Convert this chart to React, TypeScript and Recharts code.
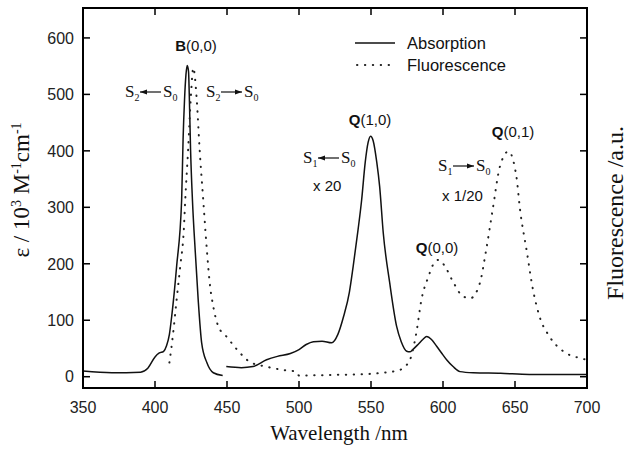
import React from "react";
import { LineChart, Line, XAxis, YAxis } from "recharts";

// wavelength axis and epsilon axis ticks
const wavelengthTicks = [350, 400, 450, 500, 550, 600, 650, 700];
const epsilonTicks = [0, 100, 200, 300, 400, 500, 600];

// absorption, Soret region (B band)
const soretNm = [350, 370, 390, 395, 400, 403, 406, 408, 410, 411.6, 415, 418.5, 419.5, 420.5, 421.5, 422.4, 423.3, 423.8, 424.7, 426, 428, 430, 432.4, 436, 440.5, 447];
const soretAbs = [10, 7, 8, 15, 35, 42, 45, 55, 75, 107, 195, 313, 420, 490, 535, 551, 540, 500, 402, 313, 220, 136, 60, 25, 7, 2];

// absorption, Q region (x 20)
const qNm = [449.5, 460, 468, 477.5, 485, 494, 500, 505, 510, 516, 522.7, 527, 531, 535, 537.6, 541, 543.5, 546, 548, 549.7, 551.5, 554, 556, 558.5, 563, 567.8, 571, 574.8, 577, 579, 583, 586, 588.7, 592, 595.6, 599, 602.5, 607, 611.8, 621, 640, 660, 700];
const qAbs = [18, 16, 18, 30, 36, 41, 48, 57, 62, 63, 60, 75, 107, 150, 195, 260, 313, 380, 415, 426, 418, 380, 337, 255, 166, 89, 62, 45, 44, 48, 58, 66, 71, 66, 54, 42, 30, 18, 9, 7, 6, 4, 4];

// fluorescence (dotted)
const fluoNm = [410, 412.5, 415, 417.5, 420, 421, 423, 425, 426.6, 429, 431, 433.5, 436, 438, 440.5, 444, 450, 457, 466, 477, 489, 498, 500, 520, 540, 558, 570, 577, 581.5, 585, 590, 593, 597, 601, 607, 614, 619, 625.5, 630, 634.5, 639.5, 645.5, 651, 653.5, 658, 662.5, 667, 674, 683.5, 695, 700];
const fluoVal = [25, 75, 136, 195, 260, 313, 402, 500, 547, 490, 402, 313, 225, 166, 124, 89, 70, 48, 26, 18, 12, 9, 2, 3, 4, 7, 12, 30, 78, 136, 178, 198, 207, 197, 168, 142, 139, 165, 225, 296, 372, 399, 354, 296, 225, 154, 107, 71, 45, 33, 30];

const toPoints = (nm: number[], v: number[]) => nm.map((x, i) => ({ nm: x, v: v[i] }));

const soretData = toPoints(soretNm, soretAbs);
const qData = toPoints(qNm, qAbs);
const fluoData = toPoints(fluoNm, fluoVal);

const SANS = "'Liberation Sans', Arial, sans-serif";
const SERIF = "'Liberation Serif', 'Times New Roman', serif";

const CHART_W = 629;
const CHART_H = 451;
const MARGIN = { top: 8, right: 42, bottom: 33, left: 23 };
const Y_AXIS_W = 60;
const X_AXIS_H = 30;
const PLOT_L = MARGIN.left + Y_AXIS_W;
const PLOT_T = MARGIN.top;
const PLOT_W = CHART_W - MARGIN.left - MARGIN.right - Y_AXIS_W;
const PLOT_H = CHART_H - MARGIN.top - MARGIN.bottom - X_AXIS_H;

const X_DOMAIN: [number, number] = [350, 700];
const Y_DOMAIN: [number, number] = [-20, 653];
const TICK_PX = 7;
const FRAME_W = 2;
const TICK_W = 1.5;

// same linear mapping the chart uses, for the inward frame ticks
const sx = (v: number) => PLOT_L + ((v - X_DOMAIN[0]) / (X_DOMAIN[1] - X_DOMAIN[0])) * PLOT_W;
const sy = (v: number) => PLOT_T + ((Y_DOMAIN[1] - v) / (Y_DOMAIN[1] - Y_DOMAIN[0])) * PLOT_H;

const LeftLabel = ({ x, y, payload }: any) => (
  <text x={x} y={y} dy="0.36em" textAnchor="end" fontFamily={SANS} fontSize={16} fill="#222">
    {payload.value}
  </text>
);

const BottomLabel = ({ x, y, payload }: any) => (
  <text x={x} y={y} dy="0.72em" textAnchor="middle" fontFamily={SANS} fontSize={16} fill="#222">
    {payload.value}
  </text>
);

// frame and inward ticks drawn as filled rectangles
const FrameBox = () => {
  const r = PLOT_L + PLOT_W;
  const b = PLOT_T + PLOT_H;
  const h = FRAME_W / 2;
  return (
    <g fill="#000">
      <rect x={PLOT_L - h} y={PLOT_T - h} width={PLOT_W + FRAME_W} height={FRAME_W} />
      <rect x={PLOT_L - h} y={b - h} width={PLOT_W + FRAME_W} height={FRAME_W} />
      <rect x={PLOT_L - h} y={PLOT_T - h} width={FRAME_W} height={PLOT_H + FRAME_W} />
      <rect x={r - h} y={PLOT_T - h} width={FRAME_W} height={PLOT_H + FRAME_W} />
      {wavelengthTicks.map((t) => (
        <rect key={`b${t}`} x={sx(t) - TICK_W / 2} y={b - TICK_PX} width={TICK_W} height={TICK_PX} />
      ))}
      {wavelengthTicks.map((t) => (
        <rect key={`t${t}`} x={sx(t) - TICK_W / 2} y={PLOT_T} width={TICK_W} height={TICK_PX} />
      ))}
      {epsilonTicks.map((t) => (
        <rect key={`l${t}`} x={PLOT_L} y={sy(t) - TICK_W / 2} width={TICK_PX} height={TICK_W} />
      ))}
      {epsilonTicks.map((t) => (
        <rect key={`r${t}`} x={r - TICK_PX} y={sy(t) - TICK_W / 2} width={TICK_PX} height={TICK_W} />
      ))}
    </g>
  );
};

const Transition = ({ x, y, upper, lower, pointLeft }: any) => {
  const a1 = x + 15;
  const a2 = x + 36;
  const ay = y - 5;
  const head = pointLeft
    ? `${a1},${ay} ${a1 + 7},${ay - 2.6} ${a1 + 7},${ay + 2.6}`
    : `${a2},${ay} ${a2 - 7},${ay - 2.6} ${a2 - 7},${ay + 2.6}`;
  return (
    <g fontFamily={SERIF} fill="#111">
      <text x={x} y={y} fontSize={17}>
        S<tspan fontSize={10} dy={4}>{upper}</tspan>
      </text>
      <line x1={a1} x2={a2} y1={ay} y2={ay} stroke="#111" strokeWidth={1.2} />
      <polygon points={head} />
      <text x={x + 38} y={y} fontSize={17}>
        S<tspan fontSize={10} dy={4}>{lower}</tspan>
      </text>
    </g>
  );
};

const BandLabel = ({ x, y, letter, idx }: any) => (
  <text x={x} y={y} textAnchor="middle" fontFamily={SANS} fontSize={15} fill="#111">
    <tspan fontWeight="bold">{letter}</tspan>
    {idx}
  </text>
);

export default function App() {
  return (
    <div style={{ position: "absolute", left: 0, top: 0, width: CHART_W, height: CHART_H, background: "#fff" }}>
      <LineChart width={CHART_W} height={CHART_H} margin={MARGIN}>
        <XAxis
          xAxisId="b"
          type="number"
          dataKey="nm"
          domain={X_DOMAIN}
          ticks={wavelengthTicks}
          height={X_AXIS_H}
          tickSize={0}
          tickMargin={13}
          axisLine={false}
          tickLine={false}
          tick={(p: any) => <BottomLabel {...p} />}
          allowDataOverflow
        />
        <YAxis
          yAxisId="l"
          type="number"
          domain={Y_DOMAIN}
          ticks={epsilonTicks}
          width={Y_AXIS_W}
          tickSize={0}
          tickMargin={9}
          axisLine={false}
          tickLine={false}
          tick={(p: any) => <LeftLabel {...p} />}
          allowDataOverflow
        />
        <Line
          xAxisId="b"
          yAxisId="l"
          data={soretData}
          dataKey="v"
          type="monotone"
          stroke="#111"
          strokeWidth={1.5}
          dot={false}
          isAnimationActive={false}
        />
        <Line
          xAxisId="b"
          yAxisId="l"
          data={qData}
          dataKey="v"
          type="monotone"
          stroke="#111"
          strokeWidth={1.5}
          dot={false}
          isAnimationActive={false}
        />
        <Line
          xAxisId="b"
          yAxisId="l"
          data={fluoData}
          dataKey="v"
          type="monotone"
          stroke="#222"
          strokeWidth={2}
          strokeDasharray="0.4 7.5"
          strokeLinecap="round"
          dot={false}
          isAnimationActive={false}
        />
      </LineChart>

      <svg width={CHART_W} height={CHART_H} style={{ position: "absolute", left: 0, top: 0, pointerEvents: "none" }}>
        <FrameBox />

        {/* legend */}
        <line x1={355} x2={395} y1={43} y2={43} stroke="#111" strokeWidth={1.5} />
        <text x={407} y={49} fontFamily={SANS} fontSize={16.5} fill="#111">Absorption</text>
        <line x1={357} x2={395} y1={65} y2={65} stroke="#222" strokeWidth={2} strokeDasharray="0.4 7.5" strokeLinecap="round" />
        <text x={407} y={71} fontFamily={SANS} fontSize={16.5} fill="#111">Fluorescence</text>

        {/* band annotations */}
        <BandLabel x={196} y={51} letter="B" idx="(0,0)" />
        <BandLabel x={370} y={125} letter="Q" idx="(1,0)" />
        <BandLabel x={513} y={137} letter="Q" idx="(0,1)" />
        <BandLabel x={437} y={253} letter="Q" idx="(0,0)" />
        <Transition x={125} y={97} upper="2" lower="0" pointLeft />
        <Transition x={206} y={97} upper="2" lower="0" />
        <Transition x={303} y={163} upper="1" lower="0" pointLeft />
        <Transition x={438} y={171} upper="1" lower="0" />
        <text x={313} y={191} fontFamily={SANS} fontSize={15} fill="#111">x 20</text>
        <text x={442} y={201} fontFamily={SANS} fontSize={15} fill="#111">x 1/20</text>

        {/* axis titles */}
        <text transform="translate(29,190) rotate(-90)" textAnchor="middle" fontFamily={SERIF} fontSize={23} fill="#111">
          ε / 10<tspan fontSize={14} dy={-8}>3</tspan>
          <tspan dy={8}> M</tspan>
          <tspan fontSize={14} dy={-8}>-1</tspan>
          <tspan dy={8}>cm</tspan>
          <tspan fontSize={14} dy={-8}>-1</tspan>
        </text>
        <text transform="translate(623,213) rotate(-90)" textAnchor="middle" fontFamily={SERIF} fontSize={24} fill="#111">
          Fluorescence /a.u.
        </text>
        <text x={339} y={440} textAnchor="middle" fontFamily={SERIF} fontSize={21} fill="#111">
          Wavelength /nm
        </text>
      </svg>
    </div>
  );
}
